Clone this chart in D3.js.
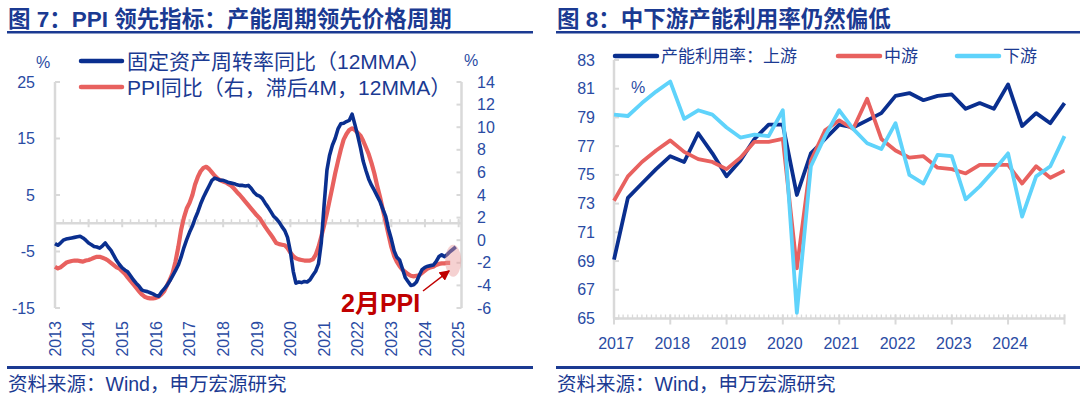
<!DOCTYPE html>
<html>
<head>
<meta charset="utf-8">
<script src="https://cdn.jsdelivr.net/npm/d3@7"></script>
<style>
  body { margin: 0; background: #fff; }
  svg { display: block; font-family: "Liberation Sans", "Noto Sans CJK SC", sans-serif; }
</style>
</head>
<body>
<svg width="1080" height="398"></svg>
<script>
// ---- 图7 数据 (月度, 2013-01 起) ----
var fixStart = "2013-01";
var fixTurnover = [
  -3.6, -3.9, -3.5, -3.0, -2.8, -2.7, -2.6, -2.5, -2.4, -2.3, -2.6, -3.0,
  -3.5, -3.8, -4.1, -4.2, -4.4, -4.0, -3.5, -4.2, -4.8, -5.7, -6.6, -7.3,
  -7.9, -8.3, -8.6, -9.3, -10.0, -10.6, -11.1, -11.8, -12.0, -12.1, -12.3, -12.5,
  -12.8, -12.9, -12.2, -11.6, -11.0, -10.2, -9.3, -8.4, -7.4, -6.0, -4.3, -2.9,
  -1.6, -0.5, 0.8, 2.0, 3.4, 4.6, 5.6, 6.6, 7.6, 8.0, 7.8, 7.6,
  7.6, 7.4, 7.2, 7.1, 7.0, 6.8, 6.7, 6.7, 6.6, 6.7, 6.2, 5.5,
  5.0, 4.8, 4.4, 3.6, 2.9, 2.1, 1.3, 0.8, 0.2, -0.6, -1.3, -2.5,
  -5.0, -8.5, -10.6, -10.4, -10.5, -10.3, -10.4, -10.0, -9.2, -8.5, -7.2, -3.5,
  3.2, 9.4, 12.0, 13.8, 15.0, 16.7, 17.6, 17.7, 18.0, 18.2, 19.3, 17.5,
  15.5, 13.3, 11.0, 9.3, 7.8, 6.7, 5.8, 4.8, 3.8, 2.5, 1.2, -1.0,
  -2.8, -4.9, -6.0, -6.5, -8.0, -9.6, -10.3, -11.0, -10.9, -10.4, -9.2, -8.2,
  -7.8, -7.6, -7.5, -7.4, -6.8, -5.9, -5.6, -5.9, -5.5, -5.0, -4.6, -4.2
];
var ppiLag = [
  -2.35, -2.5, -2.4, -2.2, -2.0, -1.9, -1.84, -1.8, -1.8, -1.85, -1.9, -1.8,
  -1.75, -1.65, -1.55, -1.47, -1.47, -1.55, -1.65, -1.8, -2.0, -2.2, -2.4, -2.5,
  -2.75, -3.0, -3.3, -3.6, -3.9, -4.2, -4.5, -4.8, -5.0, -5.1, -5.15, -5.15,
  -5.1, -5.0, -4.8, -4.5, -4.0, -3.5, -2.9, -1.9, -0.6, 0.9, 2.0, 2.8,
  3.3, 4.0, 4.9, 5.6, 6.1, 6.4, 6.5, 6.3, 6.0, 5.7, 5.45, 5.3,
  5.2, 5.1, 4.95, 4.8, 4.55, 4.25, 4.0, 3.7, 3.4, 3.1, 2.8, 2.5,
  2.2, 1.95, 1.6, 1.2, 0.85, 0.5, 0.15, -0.25, -0.35, -0.4, -0.45, -0.7,
  -1.1, -1.4, -1.6, -1.7, -1.75, -1.8, -1.8, -1.8, -1.7, -1.3, -0.6, 0.3,
  1.3, 2.4, 3.5, 4.7, 5.9, 7.0, 8.0, 8.9, 9.4, 9.75, 9.9, 9.75,
  9.5, 9.25, 8.8, 8.2, 7.6, 6.8, 5.9, 4.8, 3.8, 2.7, 1.6, 0.5,
  -0.6, -1.4, -1.9, -2.3, -2.6, -2.8, -3.0, -3.15, -3.2, -3.15, -3.1, -2.9,
  -2.7, -2.5, -2.4, -2.35, -2.2, -2.1, -2.05, -2.05, -2.0, -2.0
];
var leftTicks = [-15, -5, 5, 15, 25];
var rightTicks = [-6, -4, -2, 0, 2, 4, 6, 8, 10, 12, 14];
var years7 = d3.range(2013, 2026);

// ---- 图8 数据 (季度) ----
var quarters = ["2016Q4",
  "2017Q1", "2017Q2", "2017Q3", "2017Q4", "2018Q1", "2018Q2", "2018Q3", "2018Q4",
  "2019Q1", "2019Q2", "2019Q3", "2019Q4", "2020Q1", "2020Q2", "2020Q3", "2020Q4",
  "2021Q1", "2021Q2", "2021Q3", "2021Q4", "2022Q1", "2022Q2", "2022Q3", "2022Q4",
  "2023Q1", "2023Q2", "2023Q3", "2023Q4", "2024Q1", "2024Q2", "2024Q3", "2024Q4"];
var upstream = [69.1, 73.4, 74.4, 75.4, 76.3, 75.9, 77.9, 76.5, 74.9, 76.0, 77.5, 78.5, 78.5,
  73.6, 76.5, 77.5, 78.5, 78.3, 78.8, 79.3, 80.5, 80.7, 80.2, 80.5, 80.6,
  79.6, 80.0, 79.6, 81.3, 78.4, 79.3, 78.6, 80.0];
var midstream = [73.2, 74.9, 75.9, 76.7, 77.4, 76.6, 76.1, 75.9, 75.4, 76.2, 77.3, 77.3, 77.5,
  68.5, 76.0, 78.1, 78.8, 78.2, 80.3, 77.5, 76.7, 76.2, 76.3, 75.5, 75.4,
  75.1, 75.7, 75.7, 75.7, 74.4, 75.6, 74.8, 75.3];
var downstream = [79.2, 79.1, 80.0, 80.8, 81.5, 78.9, 79.5, 79.2, 78.3, 77.6, 77.8, 77.7, 79.5,
  65.4, 75.6, 77.7, 79.5, 78.2, 77.2, 76.8, 78.6, 75.0, 74.4, 76.4, 76.3,
  73.3, 74.2, 75.3, 76.5, 72.1, 74.9, 75.6, 77.7];
var utilTicks = [65, 67, 69, 71, 73, 75, 77, 79, 81, 83];
var years8 = d3.range(2017, 2025);

var NAVY = "#1b3a92", LABEL = "#2a4ba3", GRAY = "#d9d9d9";
var BLUE = "#0a2f8f", RED = "#e8615f", CYAN = "#5fd3fb";

var svg = d3.select("svg");

// 标题 + 上下横线 + 来源
function frame(x0, x1, title) {
  svg.append("text").attr("x", x0 + 1).attr("y", 27)
    .attr("font-size", 22.5).attr("font-weight", "bold").attr("fill", NAVY)
    .text(title);
  svg.append("rect").attr("x", x0).attr("y", 31).attr("width", x1 - x0).attr("height", 2.5).attr("fill", NAVY);
  svg.append("rect").attr("x", x0).attr("y", 366).attr("width", x1 - x0).attr("height", 3).attr("fill", NAVY);
  svg.append("text").attr("x", x0 + 1).attr("y", 391)
    .attr("font-size", 19.5).attr("fill", NAVY)
    .text("资料来源：Wind，申万宏源研究");
}
frame(7, 533, "图 7：PPI 领先指标：产能周期领先价格周期");
frame(556, 1080, "图 8：中下游产能利用率仍然偏低");

// ================= 图7 =================
var parseMonth = d3.timeParse("%Y-%m");
var m0 = parseMonth(fixStart);
var x7 = d3.scaleTime()
  .domain([m0, new Date(2025, 1, 1)])
  .range([55, 461.5]);
var yL = d3.scaleLinear().domain([-15, 25]).range([308, 82]);
var yR = d3.scaleLinear().domain([-6, 14]).range([308, 82]);

var g7 = svg.append("g");

// 左右竖轴
g7.append("line").attr("x1", x7.range()[0]).attr("x2", x7.range()[0])
  .attr("y1", yL(25)).attr("y2", yL(-15)).attr("stroke", GRAY).attr("stroke-width", 2.5);
g7.append("line").attr("x1", x7.range()[1]).attr("x2", x7.range()[1])
  .attr("y1", yR(14)).attr("y2", yR(-6)).attr("stroke", GRAY).attr("stroke-width", 2.5);

g7.selectAll(".ltick").data(leftTicks).enter().append("line")
  .attr("x1", x7.range()[0]).attr("x2", x7.range()[0] + 5)
  .attr("y1", function(d) { return yL(d); }).attr("y2", function(d) { return yL(d); })
  .attr("stroke", GRAY).attr("stroke-width", 2);
g7.selectAll(".ltxt").data(leftTicks).enter().append("text")
  .attr("x", 35).attr("y", function(d) { return yL(d); }).attr("dy", "0.35em")
  .attr("text-anchor", "end").attr("font-size", 16).attr("fill", LABEL)
  .text(function(d) { return d; });

g7.selectAll(".rtick").data(rightTicks).enter().append("line")
  .attr("x1", x7.range()[1] - 5).attr("x2", x7.range()[1])
  .attr("y1", function(d) { return yR(d); }).attr("y2", function(d) { return yR(d); })
  .attr("stroke", GRAY).attr("stroke-width", 2);
g7.selectAll(".rtxt").data(rightTicks).enter().append("text")
  .attr("x", 477).attr("y", function(d) { return yR(d); }).attr("dy", "0.35em")
  .attr("font-size", 16).attr("fill", LABEL)
  .text(function(d) { return d; });

// 零轴 (左轴 0)
var y0 = yL(0);
g7.append("line").attr("x1", x7.range()[0]).attr("x2", x7.range()[1])
  .attr("y1", y0).attr("y2", y0).attr("stroke", GRAY).attr("stroke-width", 2.5);
var quarterTicks = d3.timeMonth.every(3).range(m0, new Date(2025, 1, 2));
g7.selectAll(".qtick").data(quarterTicks).enter().append("line")
  .attr("x1", function(d) { return x7(d); }).attr("x2", function(d) { return x7(d); })
  .attr("y1", y0 - 4).attr("y2", y0).attr("stroke", GRAY).attr("stroke-width", 1.5);
g7.selectAll(".ytick").data(years7).enter().append("line")
  .attr("x1", function(d) { return x7(new Date(d, 0, 1)); })
  .attr("x2", function(d) { return x7(new Date(d, 0, 1)); })
  .attr("y1", y0 - 4).attr("y2", y0 + 4).attr("stroke", GRAY).attr("stroke-width", 2);

// 年份 (竖排)
g7.selectAll(".yr").data(years7).enter().append("text")
  .attr("transform", function(d) { return "translate(" + x7(new Date(d, 0, 1)) + ",321) rotate(-90)"; })
  .attr("dy", "0.36em").attr("text-anchor", "end")
  .attr("font-size", 16).attr("fill", LABEL)
  .text(function(d) { return d; });

// 折线
var lineL = d3.line()
  .x(function(d, i) { return x7(d3.timeMonth.offset(m0, i)); })
  .y(function(d) { return yL(d); });
var lineR = d3.line()
  .x(function(d, i) { return x7(d3.timeMonth.offset(m0, i)); })
  .y(function(d) { return yR(d); });

g7.append("path").attr("d", lineR(ppiLag))
  .attr("fill", "none").attr("stroke", RED).attr("stroke-width", 4.2).attr("stroke-linejoin", "round");
g7.append("path").attr("d", lineL(fixTurnover))
  .attr("fill", "none").attr("stroke", BLUE).attr("stroke-width", 3.6).attr("stroke-linejoin", "round");

// 标注
var lastIdx = ppiLag.length - 1;
var ex = x7(d3.timeMonth.offset(m0, lastIdx)) + 3;
g7.append("ellipse").attr("cx", ex).attr("cy", yR(ppiLag[lastIdx]) - 2)
  .attr("rx", 8).attr("ry", 16).attr("fill", "#e89a9a").attr("opacity", 0.45);

svg.append("defs").append("marker").attr("id", "arr")
  .attr("viewBox", "0 0 10 10").attr("refX", 9).attr("refY", 5)
  .attr("markerWidth", 7).attr("markerHeight", 7).attr("orient", "auto")
  .append("path").attr("d", "M0,0L10,5L0,10z").attr("fill", "#c00000");
g7.append("line").attr("x1", 423).attr("y1", 291).attr("x2", ex - 4).attr("y2", yR(ppiLag[lastIdx]) + 8)
  .attr("stroke", "#c00000").attr("stroke-width", 1.5).attr("marker-end", "url(#arr)");
g7.append("text").attr("x", 341).attr("y", 312)
  .attr("font-size", 25).attr("font-weight", "bold").attr("fill", "#c00000")
  .text("2月PPI");

// 单位
g7.append("text").attr("x", 43).attr("y", 62).attr("dy", "0.35em").attr("text-anchor", "middle")
  .attr("font-size", 16).attr("fill", LABEL).text("%");
g7.append("text").attr("x", 471).attr("y", 60).attr("dy", "0.35em").attr("text-anchor", "middle")
  .attr("font-size", 16).attr("fill", LABEL).text("%");

// 图例
var leg7 = [
  { name: "固定资产周转率同比（12MMA）", color: BLUE, y: 61 },
  { name: "PPI同比（右，滞后4M，12MMA）", color: RED, y: 87 }
];
leg7.forEach(function(d) {
  g7.append("line").attr("x1", 81).attr("x2", 122).attr("y1", d.y).attr("y2", d.y)
    .attr("stroke", d.color).attr("stroke-width", 4.5).attr("stroke-linecap", "round");
  g7.append("text").attr("x", 127).attr("y", d.y).attr("dy", "0.36em")
    .attr("font-size", 21).attr("fill", NAVY).text(d.name);
});

// ================= 图8 =================
function quarterDate(q) {
  var yr = +q.slice(0, 4), qq = +q.slice(5);
  return new Date(yr, qq * 3, 1); // 季末
}
var x8 = d3.scaleTime()
  .domain([new Date(2017, 0, 1), new Date(2025, 0, 1)])
  .range([614, 1064.5]);
var y8 = d3.scaleLinear().domain([65, 83]).range([318.5, 60]);

var g8 = svg.append("g");
var base = y8(65);

g8.append("line").attr("x1", x8.range()[0]).attr("x2", x8.range()[0])
  .attr("y1", y8(83)).attr("y2", base).attr("stroke", GRAY).attr("stroke-width", 2.5);
g8.selectAll(".t").data(utilTicks).enter().append("line")
  .attr("x1", x8.range()[0]).attr("x2", x8.range()[0] + 5)
  .attr("y1", function(d) { return y8(d); }).attr("y2", function(d) { return y8(d); })
  .attr("stroke", GRAY).attr("stroke-width", 2);
g8.selectAll(".tl").data(utilTicks).enter().append("text")
  .attr("x", 595).attr("y", function(d) { return y8(d); }).attr("dy", "0.35em")
  .attr("text-anchor", "end").attr("font-size", 16).attr("fill", LABEL)
  .text(function(d) { return d; });

g8.append("line").attr("x1", x8.range()[0]).attr("x2", x8.range()[1])
  .attr("y1", base).attr("y2", base).attr("stroke", GRAY).attr("stroke-width", 2.5);
var monthTicks = d3.timeMonth.every(1).range(new Date(2017, 0, 1), new Date(2025, 0, 2));
g8.selectAll(".mt").data(monthTicks).enter().append("line")
  .attr("x1", function(d) { return x8(d); }).attr("x2", function(d) { return x8(d); })
  .attr("y1", base - 4).attr("y2", base).attr("stroke", GRAY).attr("stroke-width", 1.3);
g8.selectAll(".yt").data(years8.concat([2025])).enter().append("line")
  .attr("x1", function(d) { return x8(new Date(d, 0, 1)); })
  .attr("x2", function(d) { return x8(new Date(d, 0, 1)); })
  .attr("y1", base - 4).attr("y2", base + 6).attr("stroke", GRAY).attr("stroke-width", 2);
g8.selectAll(".yl").data(years8).enter().append("text")
  .attr("x", function(d) { return x8(new Date(d, 0, 1)) + 2; }).attr("y", 343).attr("dy", "0.35em")
  .attr("text-anchor", "middle").attr("font-size", 16).attr("fill", LABEL)
  .text(function(d) { return d; });

var line8 = d3.line()
  .x(function(d, i) { return x8(quarterDate(quarters[i])); })
  .y(function(d) { return y8(d); });

var series8 = [
  { name: "产能利用率：上游", values: upstream, color: BLUE, lx: 615 },
  { name: "中游", values: midstream, color: RED, lx: 838 },
  { name: "下游", values: downstream, color: CYAN, lx: 957 }
];
series8.forEach(function(s) {
  g8.append("path").attr("d", line8(s.values))
    .attr("fill", "none").attr("stroke", s.color).attr("stroke-width", 3.8).attr("stroke-linejoin", "round");
});

g8.append("text").attr("x", 638).attr("y", 87).attr("dy", "0.35em").attr("text-anchor", "middle")
  .attr("font-size", 16).attr("fill", LABEL).text("%");

series8.forEach(function(s) {
  g8.append("line").attr("x1", s.lx).attr("x2", s.lx + 42).attr("y1", 56).attr("y2", 56)
    .attr("stroke", s.color).attr("stroke-width", 4.5).attr("stroke-linecap", "round");
  g8.append("text").attr("x", s.lx + 46).attr("y", 56).attr("dy", "0.36em")
    .attr("font-size", 17).attr("fill", NAVY).text(s.name);
});
</script>
</body>
</html>
